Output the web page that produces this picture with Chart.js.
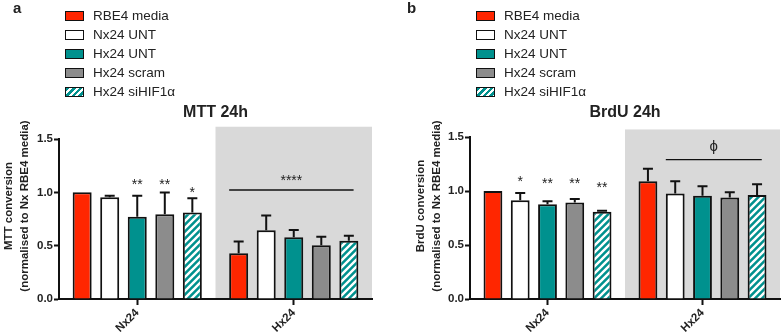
<!DOCTYPE html>
<html>
<head>
<meta charset="utf-8">
<script src="https://cdn.jsdelivr.net/npm/chart.js@4.4.0/dist/chart.umd.min.js"></script>
<style>
  html, body { margin: 0; padding: 0; background: #fff; }
  body { width: 784px; height: 336px; position: relative; overflow: hidden; font-family: "Liberation Sans", Arial, sans-serif; }
  .panel { position: absolute; top: 0; width: 392px; height: 336px; }
  .panel canvas { position: absolute; left: 0; top: 0; }
  .letter { position: absolute; top: -1px; font-weight: bold; font-size: 15px; color: #222; }
  .legend { position: absolute; top: 6px; }
  .legend .item { height: 19px; display: flex; align-items: center; font-size: 13.5px; color: #222; white-space: nowrap; }
  .legend .swatch { width: 19px; height: 10px; box-sizing: border-box; border: 1.5px solid #111; margin-right: 9px; }
</style>
</head>
<body>
<div class="panel" id="panel-a" style="left:0">
  <canvas id="mtt-chart" width="392" height="336"></canvas>
  <div class="letter" style="left:13px">a</div>
  <div class="legend" style="left:65px"></div>
</div>
<div class="panel" id="panel-b" style="left:392px">
  <canvas id="brdu-chart" width="392" height="336"></canvas>
  <div class="letter" style="left:15px">b</div>
  <div class="legend" style="left:84px"></div>
</div>
<script>
// categories / series
const categories = ['Nx24', 'Hx24'];
const seriesNames = ['RBE4 media', 'Nx24 UNT', 'Hx24 UNT', 'Hx24 scram', 'Hx24 siHIF1α'];
const yTickValues = [0, 0.5, 1.0, 1.5];

// MTT 24h - mean per series [Nx24, Hx24] and upper error (SD)
const mttMean = [[1.00, 0.43], [0.955, 0.645], [0.77, 0.58], [0.795, 0.505], [0.81, 0.547]];
const mttErr = [[0, 0.11], [0.014, 0.137], [0.197, 0.068], [0.203, 0.078], [0.134, 0.047]];
const mttStars = ['', '', '**', '**', '*'];          // over Nx24 bars
const mttStarY = [null, null, 1.11, 1.11, 1.03];

// BrdU 24h
const brduMean = [[1.00, 1.09], [0.915, 0.977], [0.878, 0.955], [0.893, 0.94], [0.807, 0.964]];
const brduErr = [[0, 0.117], [0.067, 0.114], [0.028, 0.089], [0.034, 0.049], [0.009, 0.099]];
const brduStars = ['', '*', '**', '**', '**'];
const brduStarY = [null, 1.123, 1.10, 1.10, 1.063];

const FONT = '"Liberation Sans", Arial, sans-serif';
const INK = '#111';

function makeHatch(fg, bg) {
    const size = 7;
    const c = document.createElement('canvas');
    c.width = c.height = size;
    const g = c.getContext('2d');
    g.fillStyle = bg;
    g.fillRect(0, 0, size, size);
    g.strokeStyle = fg;
    g.lineWidth = 2.4;
    g.beginPath();
    g.moveTo(-1, size + 1); g.lineTo(size + 1, -1);
    g.moveTo(-size / 2 - 1, size / 2 + 1); g.lineTo(size / 2 + 1, -size / 2 - 1);
    g.moveTo(size / 2 - 1, size * 1.5 + 1); g.lineTo(size * 1.5 + 1, size / 2 - 1);
    g.stroke();
    return g.createPattern(c, 'repeat');
}

const RED = '#ff2600';
const TEAL = '#00918e';
const GREY = '#8c8c8c';
const fills = [RED, '#ffffff', TEAL, GREY, makeHatch('#ffffff', TEAL)];
const swatchCss = [RED, '#ffffff', TEAL, GREY,
    'repeating-linear-gradient(135deg, ' + TEAL + ' 0 2.6px, #fff 2.6px 4.6px)'];

function buildLegend(el) {
    seriesNames.forEach((name, i) => {
        const row = document.createElement('div');
        row.className = 'item';
        const sw = document.createElement('span');
        sw.className = 'swatch';
        sw.style.background = swatchCss[i];
        row.appendChild(sw);
        row.appendChild(document.createTextNode(name));
        el.appendChild(row);
    });
}

// shaded Hx24 region, error bars, significance marks, titles
function panelPlugin(cfg) {
    return {
        id: 'panelDecor',
        beforeDraw(chart) {
            const { ctx, chartArea, scales } = chart;
            const x0 = scales.x.getPixelForValue(0.5);
            const top = scales.y.getPixelForValue(cfg.shadeTop);
            ctx.save();
            ctx.fillStyle = '#d9d9d9';
            ctx.fillRect(x0, top, chartArea.right - x0, chartArea.bottom - top);
            ctx.restore();
        },
        afterDatasetsDraw(chart) {
            const { ctx, scales } = chart;
            ctx.save();
            ctx.strokeStyle = INK;
            ctx.lineWidth = 2;
            chart.data.datasets.forEach((ds, i) => {
                chart.getDatasetMeta(i).data.forEach((bar, j) => {
                    const e = ds.err[j];
                    if (!e) return;
                    const yTop = scales.y.getPixelForValue(ds.data[j] + e);
                    ctx.beginPath();
                    ctx.moveTo(bar.x, bar.y);
                    ctx.lineTo(bar.x, yTop);
                    ctx.moveTo(bar.x - 5, yTop);
                    ctx.lineTo(bar.x + 5, yTop);
                    ctx.stroke();
                });
            });
            ctx.restore();
        },
        afterDraw(chart) {
            const { ctx, chartArea, scales } = chart;
            ctx.save();
            ctx.fillStyle = '#222';

            // stars over Nx24 bars
            ctx.font = '14px ' + FONT;
            ctx.textAlign = 'center';
            ctx.textBaseline = 'alphabetic';
            cfg.stars.forEach((s, i) => {
                if (!s) return;
                const bar = chart.getDatasetMeta(i).data[0];
                ctx.fillText(s, bar.x, scales.y.getPixelForValue(cfg.starY[i]) + 8);
            });

            // group comparison line over Hx24
            const g = cfg.group;
            const a = chart.getDatasetMeta(g.from).data[1];
            const b = chart.getDatasetMeta(g.to).data[1];
            const xa = a.x - a.width / 2;
            const xb = b.x + b.width / 4;
            const yl = scales.y.getPixelForValue(g.lineY);
            ctx.strokeStyle = INK;
            ctx.lineWidth = 1.3;
            ctx.beginPath();
            ctx.moveTo(xa, yl);
            ctx.lineTo(xb, yl);
            ctx.stroke();
            const yt = scales.y.getPixelForValue(g.labelY);
            if (g.label === '****') {
                ctx.fillText(g.label, (xa + xb) / 2, yt + 8);
            } else {
                ctx.font = '15px ' + FONT;
                ctx.textBaseline = 'middle';
                ctx.fillText(g.label, (xa + xb) / 2, yt);
            }

            // chart title
            ctx.font = 'bold 16px ' + FONT;
            ctx.textBaseline = 'middle';
            ctx.fillText(cfg.title, (chartArea.left + chartArea.right) / 2, 113);

            // y axis title (two lines, rotated)
            ctx.font = 'bold 11.5px ' + FONT;
            cfg.yTitle.forEach((line, k) => {
                ctx.save();
                ctx.translate(cfg.yTitleX[k], 206);
                ctx.rotate(-Math.PI / 2);
                ctx.fillText(line, 0, 0);
                ctx.restore();
            });
            ctx.restore();
        }
    };
}

function buildPanel(canvasId, cfg) {
    const tickFont = { family: FONT, size: 11.5, weight: 'bold' };
    return new Chart(document.getElementById(canvasId), {
        type: 'bar',
        data: {
            labels: categories,
            datasets: seriesNames.map((name, i) => ({
                label: name,
                data: cfg.mean[i],
                err: cfg.err[i],
                backgroundColor: fills[i],
                borderColor: INK,
                borderWidth: 2,
                categoryPercentage: 0.88,
                barPercentage: 0.69
            }))
        },
        options: {
            responsive: false,
            animation: false,
            layout: { padding: { top: cfg.top, right: cfg.right, left: 0, bottom: 0 } },
            plugins: { legend: { display: false }, tooltip: { enabled: false } },
            scales: {
                x: {
                    offset: true,
                    grid: { offset: false, drawOnChartArea: false, tickLength: 6, tickWidth: 2, tickColor: INK },
                    border: { color: INK, width: 2 },
                    ticks: { color: '#222', font: tickFont, minRotation: 45, maxRotation: 45, padding: 1, autoSkip: false },
                    afterFit: s => { s.height = 37; }
                },
                y: {
                    min: 0,
                    max: 1.5,
                    afterBuildTicks: s => { s.ticks = yTickValues.map(v => ({ value: v })); },
                    grid: { drawOnChartArea: false, tickLength: 5, tickWidth: 2, tickColor: INK },
                    border: { color: INK, width: 2 },
                    ticks: { color: '#222', font: tickFont, padding: 1, callback: v => Number(v).toFixed(1) },
                    afterFit: s => { s.width = cfg.yWidth; }
                }
            }
        },
        plugins: [panelPlugin(cfg)]
    });
}

document.querySelectorAll('.legend').forEach(buildLegend);

buildPanel('mtt-chart', {
    mean: mttMean, err: mttErr, stars: mttStars, starY: mttStarY,
    group: { from: 0, to: 4, lineY: 1.022, label: '****', labelY: 1.147 },
    title: 'MTT 24h',
    yTitle: ['MTT conversion', '(normalised to Nx RBE4 media)'],
    yTitleX: [9, 25],
    shadeTop: 1.615,
    top: 139, right: 20, yWidth: 59
});

buildPanel('brdu-chart', {
    mean: brduMean, err: brduErr, stars: brduStars, starY: brduStarY,
    group: { from: 1, to: 4, lineY: 1.291, label: 'ϕ', labelY: 1.408 },
    title: 'BrdU 24h',
    yTitle: ['BrdU conversion', '(normalised to Nx RBE4 media)'],
    yTitleX: [29, 45],
    shadeTop: 1.57,
    top: 137, right: 4, yWidth: 78
});
</script>
</body>
</html>
